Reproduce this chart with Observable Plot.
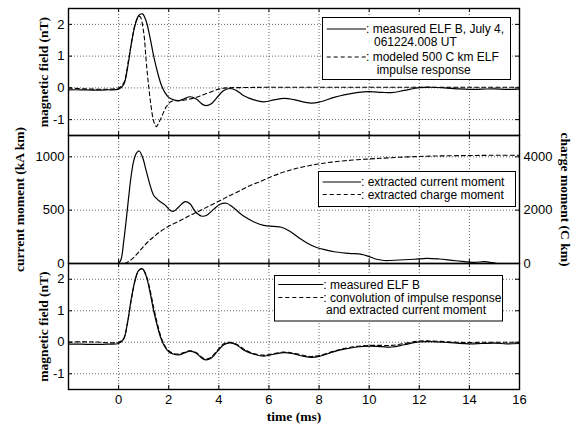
<!DOCTYPE html>
<html>
<head>
<meta charset="utf-8">
<script src="https://cdn.jsdelivr.net/npm/d3@7"></script>
<script src="https://cdn.jsdelivr.net/npm/@observablehq/plot@0.6"></script>
<style>
  html, body { margin: 0; padding: 0; background: #fff; }
  #wrap { position: relative; width: 579px; height: 425px; background: #fff; overflow: hidden; }
  #wrap > svg.plotsvg, #wrap > .p { position: absolute; left: 0; }
  #legend { position: absolute; left: 0; top: 0; pointer-events: none; }
</style>
</head>
<body>
<div id="wrap"></div>
<script>
// ---------------- DATA ----------------
const xDomain = [-2, 16];
const xTicks = [0, 2, 4, 6, 8, 10, 12, 14, 16];
const bTicks = [-1, 0, 1, 2];
const bDomain = [-1.5, 2.5];
const currentTicks = [0, 500, 1000];
const currentDomain = [0, 1200];
const chargeTicks = [0, 2000, 4000];
const chargeDomain = [0, 4800];

// measured ELF B (nT)
const measuredT = [-2, -1.5, -1, -0.5, 0, 0.2, 0.35, 0.5, 0.65, 0.8, 0.95, 1.1, 1.25, 1.4, 1.55, 1.7, 1.85, 2.0, 2.2, 2.4, 2.6, 2.85, 3.1, 3.35, 3.5, 3.7, 3.95, 4.2, 4.45, 4.7, 5.0, 5.4, 5.8, 6.2, 6.6, 7.0, 7.4, 7.7, 8.0, 8.6, 9.0, 9.5, 10.0, 10.5, 10.9, 11.4, 12.0, 12.5, 13.0, 13.5, 14.0, 14.5, 15.0, 15.5, 16.0];
const measuredB = [-0.06, -0.06, -0.07, -0.06, -0.04, 0.1, 0.6, 1.35, 1.95, 2.28, 2.33, 2.1, 1.6, 1.0, 0.5, 0.1, -0.15, -0.3, -0.38, -0.4, -0.35, -0.28, -0.35, -0.52, -0.56, -0.5, -0.28, -0.08, -0.02, -0.08, -0.25, -0.38, -0.44, -0.38, -0.33, -0.37, -0.45, -0.48, -0.45, -0.3, -0.22, -0.15, -0.12, -0.14, -0.15, -0.08, 0.01, 0.02, 0.0, -0.03, -0.05, -0.04, -0.03, -0.05, -0.04];

// modeled 500 C km ELF impulse response (nT)
const impulseT = [-2, 0, 0.2, 0.4, 0.55, 0.7, 0.85, 1.0, 1.1, 1.2, 1.3, 1.4, 1.5, 1.6, 1.75, 1.9, 2.1, 2.5, 2.85, 3.2, 3.6, 4.0, 4.3, 5, 6, 8, 10, 12, 14, 16];
const impulseB = [0.0, 0.0, 0.15, 0.9, 1.6, 2.1, 2.25, 1.75, 0.85, 0.05, -0.6, -1.05, -1.22, -1.1, -0.85, -0.6, -0.43, -0.4, -0.35, -0.27, -0.15, -0.04, 0.0, 0.01, 0.02, 0.02, 0.02, 0.02, 0.02, 0.02];

// convolution of impulse response and extracted current moment (nT)
const convT = [-2, -1, 0, 0.2, 0.35, 0.5, 0.65, 0.8, 0.95, 1.1, 1.25, 1.4, 1.55, 1.7, 1.85, 2.0, 2.2, 2.4, 2.6, 2.85, 3.1, 3.35, 3.5, 3.7, 3.95, 4.2, 4.45, 4.7, 5.0, 5.4, 5.8, 6.2, 6.6, 7.0, 7.4, 7.7, 8.0, 8.6, 9.0, 9.5, 10.0, 10.5, 10.9, 11.4, 12.0, 12.5, 13.0, 13.5, 14.0, 14.5, 15.0, 15.5, 16.0];
const convB = [0.01, 0.01, 0.0, 0.12, 0.6, 1.32, 1.93, 2.27, 2.33, 2.13, 1.68, 1.1, 0.58, 0.15, -0.12, -0.27, -0.36, -0.37, -0.33, -0.27, -0.33, -0.49, -0.53, -0.47, -0.25, -0.05, 0.0, -0.06, -0.22, -0.36, -0.41, -0.36, -0.31, -0.35, -0.42, -0.45, -0.42, -0.28, -0.2, -0.13, -0.1, -0.1, -0.1, -0.04, 0.04, 0.04, 0.02, 0.0, -0.01, 0.0, 0.0, 0.0, 0.0];

// extracted current moment (kA km)
const currentT = [0, 0.1, 0.2, 0.3, 0.4, 0.5, 0.6, 0.7, 0.82, 0.95, 1.1, 1.25, 1.4, 1.6, 1.85, 2.05, 2.2, 2.4, 2.65, 2.85, 3.05, 3.3, 3.5, 3.8, 4.05, 4.3, 4.55, 4.9, 5.2, 5.5, 5.8, 6.2, 6.5, 6.85, 7.2, 7.5, 7.9, 8.3, 8.6, 9.2, 9.7, 10.0, 10.3, 10.6, 11.2, 11.8, 12.3, 12.8, 13.3, 13.8, 14.2, 14.6, 14.9, 15.1];
const currentM = [0, 40, 200, 400, 620, 820, 960, 1030, 1055, 1000, 870, 740, 640, 590, 550, 500, 490, 530, 580, 560, 490, 445, 450, 510, 555, 565, 530, 460, 415, 380, 358, 348, 340, 300, 240, 195, 150, 125, 110, 95, 85, 65, 40, 28, 33, 40, 48, 42, 30, 18, 10, 18, 8, 0];

// extracted charge moment (C km)
const chargeT = [0.25, 0.4, 0.55, 0.7, 0.84, 1.0, 1.2, 1.4, 1.64, 2.0, 2.44, 2.8, 3.24, 3.6, 4.04, 4.4, 4.84, 5.24, 5.64, 6.04, 6.44, 6.84, 7.3, 7.9, 8.5, 9.24, 10.0, 10.57, 11.2, 11.9, 12.5, 13.24, 14.0, 14.57, 15.3, 16.0];
const chargeM = [0, 70, 180, 320, 470, 640, 840, 1000, 1180, 1400, 1600, 1780, 1976, 2150, 2353, 2530, 2730, 2920, 3070, 3230, 3380, 3500, 3610, 3720, 3800, 3870, 3920, 3950, 3985, 4010, 4030, 4040, 4050, 4055, 4060, 4060];

const zip = (ts, vs) => ts.map((t, i) => ({t, v: vs[i]}));
const measured = zip(measuredT, measuredB);
const impulse = zip(impulseT, impulseB);
const conv = zip(convT, convB);
const current = zip(currentT, currentM);
const charge = zip(chargeT, chargeM);
// charge axis is a linear rescale of the current axis
const chargeToCurrent = d3.scaleLinear(chargeDomain, currentDomain);

// ---------------- STYLE ----------------
const W = 579, ML = 68, MR = 60;
const FW = W - ML - MR;
const SANS = "'Liberation Sans', Arial, Helvetica, sans-serif";
const SERIF = "'Liberation Serif', 'Times New Roman', serif";
const gridOpts = {stroke: "#000", strokeOpacity: 0.75, strokeWidth: 0.8, strokeDasharray: "1,2"};
const tickLen = 4;

function inwardTicks(xt, yt, fh) {
  return [
    Plot.tickX(xt, {x: d => d, insetBottom: fh - tickLen, stroke: "#000"}),
    Plot.tickX(xt, {x: d => d, insetTop: fh - tickLen, stroke: "#000"}),
    Plot.tickY(yt, {y: d => d, insetRight: FW - tickLen, stroke: "#000"}),
    Plot.tickY(yt, {y: d => d, insetLeft: FW - tickLen, stroke: "#000"})
  ];
}
function yLabel(txt, dx, rot, anchor) {
  return Plot.text([txt], {text: d => d, frameAnchor: anchor, dx, rotate: rot, textAnchor: "middle", lineAnchor: "middle",
    fontFamily: SERIF, fontWeight: "bold", fontSize: 13.5, fill: "#000"});
}
const svgStyle = {background: "transparent", overflow: "visible", fontFamily: SANS, fontSize: "13px", color: "#000"};
const gridX = xTicks.filter(d => d > xDomain[0] && d < xDomain[1]);

// ---------------- PANEL 1 ----------------
const h1 = 136, mt1 = 8, mb1 = 1;
const p1 = Plot.plot({
  width: W, height: h1, marginLeft: ML, marginRight: MR, marginTop: mt1, marginBottom: mb1,
  style: svgStyle,
  x: {domain: xDomain, axis: null},
  y: {domain: bDomain, axis: null},
  marks: [
    Plot.gridX(gridX, gridOpts),
    Plot.gridY(bTicks, gridOpts),
    Plot.line(impulse, {x: "t", y: "v", stroke: "#000", strokeWidth: 1.1, strokeDasharray: "4,3", curve: "catmull-rom"}),
    Plot.line(measured, {x: "t", y: "v", stroke: "#000", strokeWidth: 1.2, curve: "catmull-rom"}),
    ...inwardTicks(xTicks, bTicks, h1 - mt1 - mb1),
    Plot.frame({stroke: "#000", strokeWidth: 1.4}),
    Plot.axisY({ticks: bTicks, tickSize: 0, tickPadding: 4, tickFormat: d => String(d), label: null, fontSize: 13, fontFamily: SANS}),
    yLabel("magnetic field (nT)", -25, -90, "left")
  ]
});

// ---------------- PANEL 2 ----------------
const h2 = 130, mt2 = 1, mb2 = 1;
const p2 = Plot.plot({
  width: W, height: h2, marginLeft: ML, marginRight: MR, marginTop: mt2, marginBottom: mb2,
  style: svgStyle,
  x: {domain: xDomain, axis: null},
  y: {domain: currentDomain, axis: null},
  marks: [
    Plot.gridX(gridX, gridOpts),
    Plot.gridY(currentTicks, gridOpts),
    Plot.line(charge, {x: "t", y: d => chargeToCurrent(d.v), stroke: "#000", strokeWidth: 1.1, strokeDasharray: "4,3", curve: "catmull-rom"}),
    Plot.line(current, {x: "t", y: "v", stroke: "#000", strokeWidth: 1.2, curve: "catmull-rom"}),
    ...inwardTicks(xTicks, currentTicks, h2 - mt2 - mb2),
    Plot.frame({stroke: "#000", strokeWidth: 1.4}),
    Plot.axisY({ticks: currentTicks, tickSize: 0, tickPadding: 4, tickFormat: d => String(d), label: null, fontSize: 13, fontFamily: SANS}),
    Plot.axisY({anchor: "right", ticks: chargeTicks.map(chargeToCurrent), tickSize: 0, tickPadding: 4,
      tickFormat: d => String(Math.round(chargeToCurrent.invert(d))), label: null, fontSize: 13, fontFamily: SANS}),
    yLabel("current moment (kA km)", -49, -90, "left"),
    yLabel("charge moment (C km)", 46, 90, "right")
  ]
});

// ---------------- PANEL 3 ----------------
const h3 = 163, mt3 = 1, mb3 = 36;
const p3 = Plot.plot({
  width: W, height: h3, marginLeft: ML, marginRight: MR, marginTop: mt3, marginBottom: mb3,
  style: svgStyle,
  x: {domain: xDomain},
  y: {domain: bDomain, axis: null},
  marks: [
    Plot.gridX(gridX, gridOpts),
    Plot.gridY(bTicks, gridOpts),
    Plot.line(conv, {x: "t", y: "v", stroke: "#000", strokeWidth: 1.1, strokeDasharray: "4,3", curve: "catmull-rom"}),
    Plot.line(measured, {x: "t", y: "v", stroke: "#000", strokeWidth: 1.2, curve: "catmull-rom"}),
    ...inwardTicks(xTicks, bTicks, h3 - mt3 - mb3),
    Plot.frame({stroke: "#000", strokeWidth: 1.4}),
    Plot.axisY({ticks: bTicks, tickSize: 0, tickPadding: 4, tickFormat: d => String(d), label: null, fontSize: 13, fontFamily: SANS}),
    Plot.axisX({ticks: xTicks, tickSize: 0, tickPadding: 5, tickFormat: d => String(d), label: null, fontSize: 13, fontFamily: SANS}),
    yLabel("magnetic field (nT)", -25, -90, "left"),
    Plot.text(["time (ms)"], {text: d => d, frameAnchor: "bottom", dy: 27, textAnchor: "middle", lineAnchor: "middle",
      fontFamily: SERIF, fontWeight: "bold", fontSize: 13.5, fill: "#000"})
  ]
});

const wrap = document.getElementById("wrap");
[[p1, 0], [p2, 134], [p3, 262]].forEach(([p, top]) => {
  p.classList.add("p");
  p.style.position = "absolute";
  p.style.left = "0px";
  p.style.top = top + "px";
  p.style.maxWidth = "none";
  wrap.appendChild(p);
});

// ---------------- LEGENDS ----------------
const legends = [
  {box: [322.5, 17.5, 188, 62], line: [326.7, 366], rows: [
    {y: 29, dash: false, text: ": measured ELF B, July 4,", x: 366},
    {y: 41.5, text: "061224.008 UT", x: 374},
    {y: 57, dash: true, text: ": modeled 500 C km ELF", x: 366},
    {y: 69.5, text: "impulse response", x: 376.7}
  ]},
  {box: [318.5, 171.5, 197, 35], line: [322.7, 361], rows: [
    {y: 182, dash: false, text: ": extracted current moment", x: 361},
    {y: 194.5, dash: true, text: ": extracted charge moment", x: 361}
  ]},
  {box: [274.5, 275.5, 228, 45.5], line: [278.3, 323.3], rows: [
    {y: 284.5, dash: false, text: ": measured ELF B", x: 323.3},
    {y: 297.5, dash: true, text: ": convolution of impulse response", x: 323.3},
    {y: 310, text: "and extracted current moment", x: 326}
  ]}
];
const lg = d3.select(wrap).append("svg").attr("id", "legend").attr("width", W).attr("height", 425);
legends.forEach(L => {
  lg.append("rect").attr("x", L.box[0]).attr("y", L.box[1]).attr("width", L.box[2]).attr("height", L.box[3])
    .attr("fill", "#fff").attr("stroke", "#000").attr("stroke-width", 1);
  L.rows.forEach(r => {
    if (r.dash !== undefined) {
      lg.append("line").attr("x1", L.line[0]).attr("x2", L.line[1]).attr("y1", r.y).attr("y2", r.y)
        .attr("stroke", "#000").attr("stroke-width", 1.1).attr("stroke-dasharray", r.dash ? "4,3" : null);
    }
    lg.append("text").attr("x", r.x).attr("y", r.y + 4.2).text(r.text)
      .attr("font-family", SANS).attr("font-size", 12).attr("fill", "#000");
  });
});
</script>
</body>
</html>
